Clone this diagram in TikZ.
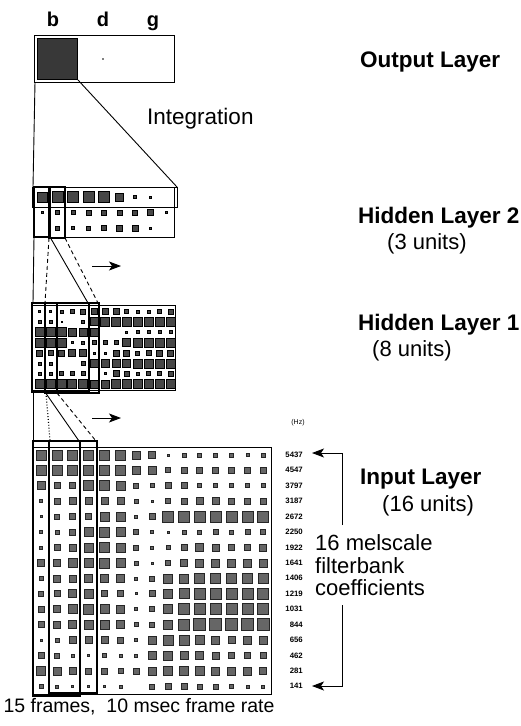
\documentclass[tikz,border=0pt]{standalone}
\usepackage{fontspec}
\setmainfont{Liberation Sans}
\usetikzlibrary{arrows.meta}
\begin{document}
\begin{tikzpicture}[x=1pt,y=-1pt,
  lbl/.style={font=\fontsize{22.5}{25}\selectfont\bfseries, anchor=base west, inner sep=0},
  sub/.style={font=\fontsize{22}{24}\selectfont, anchor=base west, inner sep=0},
  hzlab/.style={font=\fontsize{7.8}{8}\selectfont\bfseries, anchor=east, inner sep=0},
  framebox/.style={draw, line width=0.8pt},
  winbox/.style={draw, line width=1.4pt},
  conn/.style={line width=0.9pt},
  insq/.style={fill=black!60, draw=black!85, line width=0.4pt},
  hsq/.style={fill=black!72, draw=black, line width=0.4pt},
  tip/.style={-{Stealth[length=12pt,width=9pt,inset=3pt]}},
]
\fill[white] (0,0) rectangle (521,726);
\useasboundingbox (0,0) rectangle (521,726);

% ---------------- Output layer
\node[font=\fontsize{20}{22}\selectfont\bfseries, anchor=base, inner sep=0] (lb) at (53,26) {b};
\node[font=\fontsize{20}{22}\selectfont\bfseries, anchor=base, inner sep=0] (ld) at (103,26) {d};
\node[font=\fontsize{20}{22}\selectfont\bfseries, anchor=base, inner sep=0] (lg) at (153,26) {g};
\draw[framebox] (34,35) rectangle (174,82);
\filldraw[fill=black!78, draw=black, line width=0.6pt] (37,38) rectangle (77,79);
\fill (103,59) circle (0.9);
\node[lbl] (outlbl) at (360,67) {Output Layer};
\node[sub, font=\fontsize{22.5}{24}\selectfont] (integ) at (147,124) {Integration};

\coordinate (oBL) at (35,82);
\coordinate (oSqBR) at (78,80);
\coordinate (h2TL) at (33,187);
\coordinate (h2TR) at (177,187);
\draw[conn] (oBL) -- (h2TL);
\draw[conn] (oSqBR) -- (h2TR);

% ---------------- Hidden layer 2
\draw[framebox] (32,187) rectangle (177,207);
\draw[framebox] (34,187) rectangle (174,237);
\foreach \row [count=\r] in {{10,11,11,11,11,8,3,2,0},{2,4,4,5,5,5,5,6,2},{0,4,3,4,5,6,6,2,0}} {
  \foreach \s [count=\c] in \row {
    \ifnum\s>0
      \path[hsq] ({42+15.5*(\c-1)-\s/2},{197+15.5*(\r-1)-\s/2}) rectangle ++(\s,\s);
    \fi
  }
}
\draw[winbox] (34,187) rectangle (50,237);
\draw[winbox] (49,187) rectangle (65,238);
\node[lbl] (h2lbl) at (358,223) {Hidden Layer 2};
\node[sub] (h2sub) at (387,249) {(3 units)};

\coordinate (h2aBL) at (34,237);
\coordinate (h2aBR) at (50,237);
\coordinate (h2bBL) at (49,238);
\coordinate (h2bBR) at (65,238);
\coordinate (h1aTL) at (33,303);
\coordinate (h1aTR) at (88,303);
\coordinate (h1bTL) at (45,303);
\coordinate (h1bTR) at (98,303);
\draw[conn] (h2aBL) -- (h1aTL);
\draw[conn] (h2aBR) -- (h1aTR);
\draw[conn, dash pattern=on 4pt off 3pt] (h2bBL) -- (h1bTL);
\draw[conn, dash pattern=on 4pt off 3pt] (h2bBR) -- (h1bTR);
\coordinate (ar1s) at (92,266);
\coordinate (ar1e) at (121,266);
\draw[conn, tip] (ar1s) -- (ar1e);

% ---------------- Hidden layer 1
\draw[framebox] (32,305) rectangle (175,390);
\foreach \row [count=\r] in {
  {2,2,3,4,5,6,6,6,4,3,3,4,5},
  {3,3,1,0,3,8,9,9,9,9,9,9,9},
  {9,9,9,8,8,8,0,0,2,3,3,3,3},
  {9,9,9,2,3,4,4,4,8,9,9,9,9},
  {6,5,6,7,7,2,2,6,6,4,5,6,6},
  {3,3,0,0,4,8,8,8,8,9,9,9,9},
  {3,3,4,4,4,0,2,6,5,3,4,4,5},
  {9,9,9,9,9,8,8,9,9,9,9,9,9}} {
  \foreach \s [count=\c] in \row {
    \ifnum\s>0
      \path[hsq] ({39.45+10.9*(\c-1)-\s/2},{311.2+10.4*(\r-1)-\s/2}) rectangle ++(\s,\s);
    \fi
  }
}
\draw[winbox] (32,303) rectangle (89,391);
\draw[winbox] (45,303) rectangle (99,393);
\draw[winbox] (32,303) rectangle (45,392);
\draw[winbox] (45,303) rectangle (57,393);
\node[lbl] (h1lbl) at (358,330) {Hidden Layer 1};
\node[sub] (h1sub) at (372,356) {(8 units)};

\coordinate (h1cBL) at (33,392);
\coordinate (h1cBR) at (45,392);
\coordinate (h1dBL) at (46,393);
\coordinate (h1dBR) at (57,393);
\coordinate (inaTL) at (33,441);
\coordinate (inaTR) at (79,441);
\coordinate (inbTL) at (50,441);
\coordinate (inbTR) at (96,441);
\draw[conn] (h1cBL) -- (inaTL);
\draw[conn] (h1cBR) -- (inaTR);
\draw[conn, dotted, line width=1.2pt] (h1dBL) -- (inbTL);
\draw[conn, dash pattern=on 4pt off 3pt] (h1dBR) -- (inbTR);
\coordinate (ar2s) at (92,418);
\coordinate (ar2e) at (121,418);
\draw[conn, tip] (ar2s) -- (ar2e);

% ---------------- Input layer
\draw[framebox] (33,447) rectangle (271,694);
\foreach \row [count=\r] in {
  {10,10,10,10,10,10,8,7,2,4,4,4,4,3,4},
  {10,10,10,10,10,10,8,8,5,6,6,6,6,6,6},
  {8,6,6,10,10,9,5,4,6,6,4,4,4,4,4},
  {3,6,7,7,7,7,4,2,5,6,7,7,6,6,6},
  {2,5,6,6,9,9,3,6,11,11,11,11,11,11,11},
  {3,4,6,9,10,9,5,3,2,4,4,5,4,5,5},
  {3,6,7,9,10,9,5,3,4,6,8,7,6,6,7},
  {7,7,9,9,10,9,4,2,5,7,8,8,8,8,8},
  {4,7,7,8,8,8,3,5,9,9,10,10,10,10,10},
  {5,6,8,9,6,6,2,6,9,10,11,11,11,11,11},
  {6,7,9,10,9,8,3,5,9,11,11,11,11,11,11},
  {6,7,8,9,9,8,4,5,9,11,12,12,12,12,12},
  {2,4,7,7,7,6,3,8,10,10,9,8,7,8,8},
  {6,5,3,2,4,3,3,8,9,8,8,7,6,6,6},
  {9,8,7,6,6,5,6,8,9,9,9,8,8,8,7},
  {4,3,2,2,2,3,0,5,6,6,5,5,4,3,3}} {
  \foreach \s [count=\c] in \row {
    \ifnum\s>0
      \path[insq] ({33+15.87*(\c-0.5)-\s/2},{447+15.44*(\r-0.5)-\s/2}) rectangle ++(\s,\s);
    \fi
  }
}
\draw[winbox, line width=1.1pt] (33,441) rectangle (80,696);
\draw[winbox, line width=1.1pt] (49,441) rectangle (97,693);

\node[font=\fontsize{7}{8}\selectfont, inner sep=0] (hzunit) at (298,423) {(Hz)};
\foreach \f [count=\r] in {5437,4547,3797,3187,2672,2250,1922,1641,1406,1219,1031,844,656,462,281,141} {
  \node[hzlab] (hz\r) at (303,{454.7+15.44*(\r-1)}) {\f};
}

\coordinate (brTop) at (342,453);
\coordinate (brTopMid) at (342,525);
\coordinate (brBotMid) at (342,605);
\coordinate (brBot) at (342,686);
\coordinate (tipTop) at (312,453);
\coordinate (tipBot) at (312,686);
\draw[conn, tip] (brTopMid) -- (brTop) -- (tipTop);
\draw[conn, tip] (brBotMid) -- (brBot) -- (tipBot);

\node[lbl] (inlbl) at (360,484) {Input Layer};
\node[sub] (insub) at (382,511) {(16 units)};
\node[sub] (mel1) at (315,550) {16 melscale};
\node[sub] (mel2) at (315,573) {filterbank};
\node[sub] (mel3) at (315,595) {coefficients};

\node[font=\fontsize{19.5}{22}\selectfont, anchor=base, inner sep=0] (frames) at (139,712) {15 frames,\ \ 10 msec frame rate};
\end{tikzpicture}
\end{document}
